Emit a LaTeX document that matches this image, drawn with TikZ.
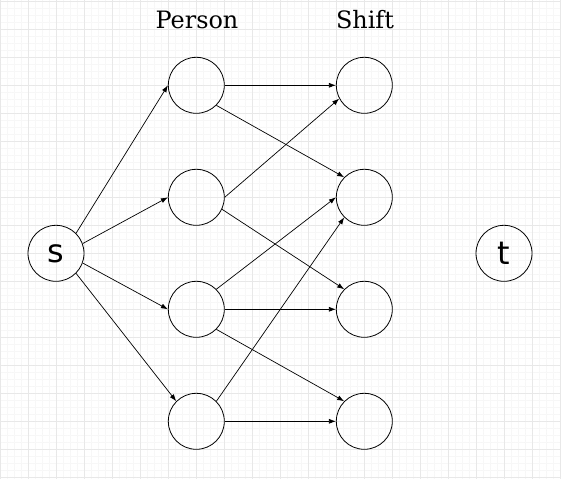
\documentclass[tikz,border=0pt]{standalone}
\usepackage{fontspec}
\setmainfont{DejaVu Serif}
\newfontfamily\nodefont{DejaVu Sans}
\usetikzlibrary{arrows.meta}
\begin{document}
\begin{tikzpicture}[x=1bp,y=-1bp,
  vert/.style={circle,draw,line width=0.8bp,minimum size=56bp,inner sep=0pt,font=\nodefont\fontsize{32}{32}\selectfont},
  hdr/.style={anchor=base,inner sep=0pt,font=\fontsize{24}{24}\selectfont},
  edge/.style={-{Latex[length=7bp,width=5bp]},line width=0.7bp},
  minorgrid/.style={color=black!3,line width=0.6bp},
  majorgrid/.style={color=black!9,line width=0.8bp}]
\useasboundingbox (0,0) rectangle (561,479);
\fill[white] (0,0) rectangle (561,479);
\foreach \i in {0,...,80} {
  \draw[minorgrid] (\i*7+0.3,0) -- (\i*7+0.3,479);
}
\foreach \i in {0,...,68} {
  \draw[minorgrid] (0,\i*7+1.3) -- (561,\i*7+1.3);
}
\foreach \i in {0,...,20} {
  \draw[majorgrid] (\i*28+0.3,0) -- (\i*28+0.3,479);
}
\foreach \i in {0,...,17} {
  \draw[majorgrid] (0,\i*28+1.3) -- (561,\i*28+1.3);
}
\node[hdr] (hp) at (197,29) {Person};
\node[hdr] (hs) at (365,29) {Shift};
\node[vert] (s) at (56,253.3) {s};
\node[vert] (t) at (504,253.3) {t};
\node[vert] (p1) at (196.3,85.3) {};
\node[vert] (p2) at (196.3,197.3) {};
\node[vert] (p3) at (196.3,309.3) {};
\node[vert] (p4) at (196.3,421.3) {};
\node[vert] (q1) at (364.3,85.3) {};
\node[vert] (q2) at (364.3,197.3) {};
\node[vert] (q3) at (364.3,309.3) {};
\node[vert] (q4) at (364.3,421.3) {};
\draw[edge] (s.north east) -- (p1.west);
\draw[edge] (s.20) -- (p2.west);
\draw[edge] (s.-20) -- (p3.west);
\draw[edge] (s.south east) -- (p4.north west);
\draw[edge] (p1.east) -- (q1.west);
\draw[edge] (p1.south east) -- (q2.north west);
\draw[edge] (p2.east) -- (q1.208);
\draw[edge] (p2.-25) -- (q3.north west);
\draw[edge] (p3.north east) -- (q2.west);
\draw[edge] (p3.east) -- (q3.west);
\draw[edge] (p3.south east) -- (q4.north west);
\draw[edge] (p4.north east) -- (q2.south west);
\draw[edge] (p4.east) -- (q4.west);
\end{tikzpicture}
\end{document}
